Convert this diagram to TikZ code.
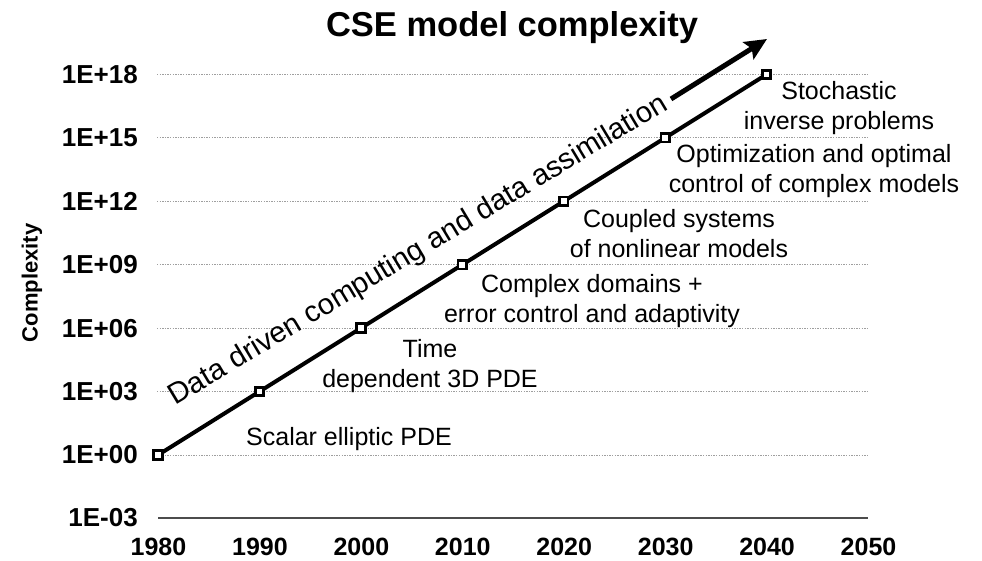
\documentclass[tikz,border=0pt]{standalone}
\usepackage{fontspec}
\setmainfont{Liberation Sans}
\usetikzlibrary{arrows.meta}
\begin{document}
\begin{tikzpicture}[x=1pt,y=-1pt,
  gridline/.style={gray!75, line width=0.9pt, dash pattern=on 1.3pt off 1.3pt},
  axisline/.style={gray!60!black, line width=1.5pt},
  ylab/.style={anchor=east, inner sep=0pt, font=\fontsize{26}{30}\selectfont\bfseries},
  xlab/.style={anchor=base, inner sep=0pt, font=\fontsize{25}{30}\selectfont\bfseries},
  sqmark/.style={draw=black, fill=white, line width=2.8pt, minimum size=8.5pt, inner sep=0pt, outer sep=0pt, rectangle},
  dataline/.style={black, line width=4pt},
  note/.style={align=center, inner sep=0pt, anchor=base, font=\fontsize{25}{30}\selectfont},
  trendarrow/.style={black, line width=5pt, -{Stealth[length=22pt,width=20pt,inset=4pt]}}
]
\useasboundingbox (0,0) rectangle (982,561);

% gridlines
\foreach \k/\lab in {0/1E+00,1/1E+03,2/1E+06,3/1E+09,4/1E+12,5/1E+15,6/1E+18}{
  \draw[gridline] (157,455-63.43*\k) -- (867,455-63.43*\k);
  \node[ylab] (y\k) at (138,455-63.43*\k) {\lab};
}
\node[ylab] (ym) at (138,518) {1E-03};
\draw[axisline] (158,518) -- (868,518);

% x labels
\foreach \i/\yr in {0/1980,1/1990,2/2000,3/2010,4/2020,5/2030,6/2040,7/2050}{
  \node[xlab] (x\i) at (158.5+101.43*\i,555) {\yr};
}

% title and axis title
\node[anchor=base, inner sep=0pt, font=\fontsize{34.5}{40}\selectfont\bfseries] (title) at (512,37) {CSE model complexity};
\node[rotate=90, inner sep=0pt, font=\fontsize{22}{26}\selectfont\bfseries] (ytitle) at (32,283) {Complexity};

% data points
\foreach \i in {0,...,6}{
  \node[sqmark] (p\i) at (158+101.43*\i,455-63.43*\i) {};
}
\draw[dataline] (p0) -- (p1) -- (p2) -- (p3) -- (p4) -- (p5) -- (p6);
\foreach \i in {0,...,6}{
  \node[sqmark] at (p\i) {};
}

% trend arrow
\node[anchor=base west, inner sep=0pt, rotate=31, font=\fontsize{29.3}{32}\selectfont] (trend) at (175,406) {Data driven computing and data assimilation};
\coordinate (a0) at (671,99);
\coordinate (a1) at (767,39);
\draw[trendarrow] (a0) -- (a1);

% annotations (anchor = baseline of last line)
\node[note] (n1) at (349,445) {Scalar elliptic PDE};
\node[note] (n2) at (430,387) {Time\\dependent 3D PDE};
\node[note] (n3) at (592,322) {Complex domains +\\error control and adaptivity};
\node[note] (n4) at (679,258) {Coupled systems\\of nonlinear models};
\node[note] (n5) at (814,193) {Optimization and optimal\\control of complex models};
\node[note] (n6) at (839,130) {Stochastic\\inverse problems};
\end{tikzpicture}
\end{document}
